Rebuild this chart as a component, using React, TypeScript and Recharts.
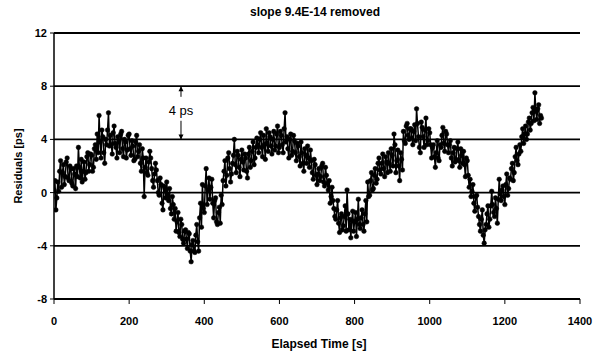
import React from 'react';
import { LineChart, Line, XAxis, YAxis, CartesianGrid, ReferenceLine, ReferenceDot } from 'recharts';

const FONT = 'Arial, "Liberation Sans", Helvetica, sans-serif';

const chartTitle = 'slope 9.4E-14 removed';
const xAxisLabel = 'Elapsed Time [s]';
const yAxisLabel = 'Residuals [ps]';

const xTicks = [0, 200, 400, 600, 800, 1000, 1200, 1400];
const yTicks = [-8, -4, 0, 4, 8, 12];

// samples on the whole 5 s grid
const times = [
  0, 5, 10, 15, 20, 25, 30, 35, 40, 45,
  50, 55, 60, 65, 70, 75, 80, 85, 90, 95,
  100, 105, 110, 115, 120, 125, 130, 135, 140, 145,
  150, 155, 160, 165, 170, 175, 180, 185, 190, 195,
  200, 205, 210, 215, 220, 225, 230, 235, 240, 245,
  250, 255, 260, 265, 270, 275, 280, 285, 290, 295,
  300, 305, 310, 315, 320, 325, 330, 335, 340, 345,
  350, 355, 360, 365, 370, 375, 380, 385, 390, 395,
  400, 405, 410, 415, 420, 425, 430, 435, 440, 445,
  450, 455, 460, 465, 470, 475, 480, 485, 490, 495,
  500, 505, 510, 515, 520, 525, 530, 535, 540, 545,
  550, 555, 560, 565, 570, 575, 580, 585, 590, 595,
  600, 605, 610, 615, 620, 625, 630, 635, 640, 645,
  650, 655, 660, 665, 670, 675, 680, 685, 690, 695,
  700, 705, 710, 715, 720, 725, 730, 735, 740, 745,
  750, 755, 760, 765, 770, 775, 780, 785, 790, 795,
  800, 805, 810, 815, 820, 825, 830, 835, 840, 845,
  850, 855, 860, 865, 870, 875, 880, 885, 890, 895,
  900, 905, 910, 915, 920, 925, 930, 935, 940, 945,
  950, 955, 960, 965, 970, 975, 980, 985, 990, 995,
  1000, 1005, 1010, 1015, 1020, 1025, 1030, 1035, 1040, 1045,
  1050, 1055, 1060, 1065, 1070, 1075, 1080, 1085, 1090, 1095,
  1100, 1105, 1110, 1115, 1120, 1125, 1130, 1135, 1140, 1145,
  1150, 1155, 1160, 1165, 1170, 1175, 1180, 1185, 1190, 1195,
  1200, 1205, 1210, 1215, 1220, 1225, 1230, 1235, 1240, 1245,
  1250, 1255, 1260, 1265, 1270, 1275, 1280, 1285, 1290, 1295,
];

const residuals = [
  0.2, -1.3, 0.8, 1.6, 0.4, 2.1, 1.2, 2.6, 0.9, 1.8,
  0.5, 1.4, 2.0, 3.4, 1.1, 0.8, 2.3, 1.5, 3.0, 2.1,
  2.8, 1.9, 3.6, 4.4, 5.8, 2.6, 4.2, 2.2, 3.6, 6.0,
  4.3, 2.9, 5.0, 3.4, 4.2, 3.0, 4.6, 2.7, 3.8, 3.2,
  4.4, 2.8, 3.5, 2.5, 4.3, 3.1, 2.2, 3.3, -0.3, 2.6,
  1.3, 3.1, 1.8, 0.4, 2.2, 0.9, -0.2, 0.6, -1.3, 0.3,
  0.8, -0.6, -1.2, -0.3, -2.0, -2.9, -1.5, -3.3, -2.4, -3.8,
  -2.8, -4.2, -3.1, -5.2, -3.6, -4.5, -2.4, -4.4, -0.8, 0.6,
  -1.5, 1.8, 0.2, -0.5, 1.0, -1.9, -0.4, -2.4, -1.1, -0.2,
  0.9, 2.4, 1.3, 3.0, 0.8, 2.2, 4.0, 1.5, 2.8, 1.2,
  3.2, 1.7, 2.6, 1.1, 3.4, 2.4, 3.8, 2.6, 4.1, 3.0,
  4.5, 2.7, 3.6, 4.8, 3.1, 4.2, 2.9, 4.6, 3.5, 5.0,
  3.4, 4.3, 3.0, 6.0, 4.2, 2.6, 4.4, 3.1, 3.9, 2.4,
  3.5, 2.0, 3.0, 1.6, 2.8, 3.5, 1.9, 2.4, 1.0, 2.1,
  0.6, 1.8, 1.2, 2.2, 0.5, 1.3, 0.2, -0.8, 0.4, -1.2,
  -2.0, -0.6, -3.0, -1.6, -2.5, -1.0, 0.2, -2.8, -3.4, -1.4,
  -2.2, -3.3, -0.5, -2.7, -1.3, -2.9, -0.6, 0.8, -0.2, 1.5,
  0.3, 1.8, 1.0, 2.6, 1.4, 2.9, 1.2, 2.3, 3.0, 1.6,
  2.8, 4.4, 1.5, 3.2, 0.9, 2.5, 4.6, 3.7, 5.2, 4.0,
  4.8, 3.6, 5.1, 6.3, 4.2, 3.0, 4.9, 3.4, 5.6, 3.9,
  4.5, 2.6, 3.6, 1.9, 3.9, 2.4, 3.4, 4.9, 3.1, 4.4,
  3.0, 3.9, 2.0, 3.4, 2.5, 3.8, 1.9, 2.8, 3.1, 1.2,
  2.4, 0.4, -0.3, 0.6, -1.4, -0.2, -1.8, -2.9, -1.3, -3.8,
  -2.4, -1.0, -2.0, 0.1, -1.5, -0.4, -2.3, 1.0, -0.6, 0.5,
  -0.9, 1.4, 0.3, 1.0, 2.2, 1.5, 3.4, 2.1, 3.6, 4.2,
  3.7, 5.0, 4.4, 5.6, 5.2, 6.4, 7.5, 5.5, 6.6, 5.8,
];

// samples half-way between the ones above
const timesMid = [
  2.5, 7.5, 12.5, 17.5, 22.5, 27.5, 32.5, 37.5, 42.5, 47.5,
  52.5, 57.5, 62.5, 67.5, 72.5, 77.5, 82.5, 87.5, 92.5, 97.5,
  102.5, 107.5, 112.5, 117.5, 122.5, 127.5, 132.5, 137.5, 142.5, 147.5,
  152.5, 157.5, 162.5, 167.5, 172.5, 177.5, 182.5, 187.5, 192.5, 197.5,
  202.5, 207.5, 212.5, 217.5, 222.5, 227.5, 232.5, 237.5, 242.5, 247.5,
  252.5, 257.5, 262.5, 267.5, 272.5, 277.5, 282.5, 287.5, 292.5, 297.5,
  302.5, 307.5, 312.5, 317.5, 322.5, 327.5, 332.5, 337.5, 342.5, 347.5,
  352.5, 357.5, 362.5, 367.5, 372.5, 377.5, 382.5, 387.5, 392.5, 397.5,
  402.5, 407.5, 412.5, 417.5, 422.5, 427.5, 432.5, 437.5, 442.5, 447.5,
  452.5, 457.5, 462.5, 467.5, 472.5, 477.5, 482.5, 487.5, 492.5, 497.5,
  502.5, 507.5, 512.5, 517.5, 522.5, 527.5, 532.5, 537.5, 542.5, 547.5,
  552.5, 557.5, 562.5, 567.5, 572.5, 577.5, 582.5, 587.5, 592.5, 597.5,
  602.5, 607.5, 612.5, 617.5, 622.5, 627.5, 632.5, 637.5, 642.5, 647.5,
  652.5, 657.5, 662.5, 667.5, 672.5, 677.5, 682.5, 687.5, 692.5, 697.5,
  702.5, 707.5, 712.5, 717.5, 722.5, 727.5, 732.5, 737.5, 742.5, 747.5,
  752.5, 757.5, 762.5, 767.5, 772.5, 777.5, 782.5, 787.5, 792.5, 797.5,
  802.5, 807.5, 812.5, 817.5, 822.5, 827.5, 832.5, 837.5, 842.5, 847.5,
  852.5, 857.5, 862.5, 867.5, 872.5, 877.5, 882.5, 887.5, 892.5, 897.5,
  902.5, 907.5, 912.5, 917.5, 922.5, 927.5, 932.5, 937.5, 942.5, 947.5,
  952.5, 957.5, 962.5, 967.5, 972.5, 977.5, 982.5, 987.5, 992.5, 997.5,
  1002.5, 1007.5, 1012.5, 1017.5, 1022.5, 1027.5, 1032.5, 1037.5, 1042.5, 1047.5,
  1052.5, 1057.5, 1062.5, 1067.5, 1072.5, 1077.5, 1082.5, 1087.5, 1092.5, 1097.5,
  1102.5, 1107.5, 1112.5, 1117.5, 1122.5, 1127.5, 1132.5, 1137.5, 1142.5, 1147.5,
  1152.5, 1157.5, 1162.5, 1167.5, 1172.5, 1177.5, 1182.5, 1187.5, 1192.5, 1197.5,
  1202.5, 1207.5, 1212.5, 1217.5, 1222.5, 1227.5, 1232.5, 1237.5, 1242.5, 1247.5,
  1252.5, 1257.5, 1262.5, 1267.5, 1272.5, 1277.5, 1282.5, 1287.5, 1292.5, 1297.5,
];

const residualsMid = [
  0.9, -0.4, 0.1, 2.4, 1.5, 0.6, 2.3, 1.1, 2.0, 0.7,
  1.8, 0.3, 1.2, 1.9, 2.5, 1.6, 1.0, 2.7, 1.6, 2.9,
  1.6, 3.3, 2.5, 3.0, 3.8, 4.7, 3.0, 4.0, 4.7, 3.5,
  3.6, 4.5, 3.7, 2.6, 3.9, 4.4, 3.3, 4.0, 2.6, 4.3,
  3.3, 3.9, 2.4, 3.8, 2.7, 3.6, 1.6, 2.6, 1.9, 1.5,
  2.3, 2.6, 0.9, 1.4, 1.7, 0.0, 1.1, -0.8, 0.5, -0.4,
  -0.2, 0.3, -1.6, -0.9, -1.2, -2.2, -3.0, -2.0, -3.5, -2.9,
  -3.5, -3.0, -4.4, -3.9, -4.4, -3.2, -3.7, -1.9, -2.6, -1.2,
  0.5, -0.9, 1.1, 0.4, -0.8, -0.6, -2.2, -1.5, -2.3, -0.9,
  1.6, 0.5, 2.6, 1.8, 1.4, 2.8, 2.1, 3.1, 1.9, 2.5,
  2.3, 2.9, 1.6, 2.9, 1.9, 3.1, 2.1, 3.4, 3.6, 4.0,
  3.4, 4.3, 2.5, 3.7, 4.5, 3.5, 4.0, 3.2, 4.4, 3.0,
  4.6, 3.6, 4.8, 3.8, 3.3, 4.0, 2.8, 4.3, 3.0, 3.7,
  2.7, 3.8, 2.2, 3.3, 2.2, 2.6, 3.2, 1.5, 2.5, 1.3,
  1.4, 0.9, 2.0, 0.8, 1.9, 0.7, 0.9, -0.3, -0.6, -1.8,
  -1.3, -2.3, -1.9, -2.8, -1.8, -2.9, -1.6, -2.0, -2.1, -2.9,
  -1.5, -2.0, -2.4, -1.9, -2.4, -1.6, -2.2, -0.3, 0.9, 0.2,
  1.3, 0.7, 2.2, 1.7, 2.2, 1.8, 2.7, 1.5, 2.2, 3.3,
  2.0, 3.6, 2.4, 2.0, 3.0, 1.7, 3.9, 5.0, 4.3, 4.8,
  4.1, 4.6, 3.9, 5.2, 3.4, 5.3, 4.2, 4.7, 3.6, 4.8,
  3.6, 3.4, 2.7, 3.0, 2.6, 3.6, 4.3, 3.7, 4.6, 3.6,
  3.6, 2.6, 3.0, 2.3, 3.3, 2.4, 3.3, 2.2, 2.1, 2.6,
  1.3, 1.0, 0.1, -0.8, -0.3, -1.1, -2.4, -2.0, -3.2, -2.8,
  -1.6, -2.6, -1.0, -0.9, -1.8, -1.2, -0.5, -0.1, 0.2, -0.3,
  0.6, -0.2, 1.1, 1.8, 0.9, 2.7, 2.4, 2.9, 3.1, 4.8,
  4.4, 4.0, 5.3, 4.7, 6.0, 5.4, 6.1, 6.3, 5.2, 5.6,
];

// "4 ps" annotation (arrow between the 4 and 8 gridlines)
const annotationTime = 338;
const annotationTop = 8;
const annotationBottom = 4;
const annotationGapTop = 7.2;
const annotationGapBottom = 5.4;
const annotationTextY = 6.2;
const annotationText = '4 ps';

const data = times.flatMap((t, i) => [
  { t, r: residuals[i] },
  { t: timesMid[i], r: residualsMid[i] },
]);

const tickStyle = { fill: '#000', fontSize: 11, fontWeight: 'bold' as const, fontFamily: FONT };

const ArrowUp = (props: any) => {
  const { cx, cy } = props;
  return <polygon points={`${cx},${cy} ${cx - 2.5},${cy + 5} ${cx + 2.5},${cy + 5}`} fill="#000" />;
};
const ArrowDown = (props: any) => {
  const { cx, cy } = props;
  return <polygon points={`${cx},${cy} ${cx - 2.5},${cy - 5} ${cx + 2.5},${cy - 5}`} fill="#000" />;
};
const AnnotText = (props: any) => {
  const { cx, cy } = props;
  return (
    <text x={cx} y={cy} textAnchor="middle" dominantBaseline="central" fontSize={13} fontFamily={FONT} fill="#000">
      {annotationText}
    </text>
  );
};

export default function App() {
  return (
    <div style={{ position: 'absolute', left: 0, top: 0, width: 610, height: 357, background: '#fff' }}>
      <LineChart width={610} height={357} data={data} margin={{ top: 33, right: 30, bottom: 28, left: 14 }}>
        <CartesianGrid vertical={false} stroke="#000" strokeWidth={1.8} horizontalValues={yTicks} />
        <XAxis
          dataKey="t"
          type="number"
          domain={[0, 1400]}
          ticks={xTicks}
          tickSize={5}
          tickMargin={13}
          height={30}
          axisLine={{ stroke: '#000', strokeWidth: 1.5 }}
          tickLine={{ stroke: '#000' }}
          tick={tickStyle}
          allowDataOverflow
        />
        <YAxis
          type="number"
          domain={[-8, 12]}
          ticks={yTicks}
          width={40}
          tickSize={4}
          tickMargin={3}
          axisLine={{ stroke: '#000', strokeWidth: 1.5 }}
          tickLine={{ stroke: '#000' }}
          tick={tickStyle}
          allowDataOverflow
        />
        <Line
          dataKey="r"
          type="linear"
          stroke="#000"
          strokeWidth={1.5}
          dot={{ r: 2.3, fill: '#000', stroke: '#000', strokeWidth: 0.5 }}
          isAnimationActive={false}
        />
        <ReferenceLine
          segment={[{ x: annotationTime, y: annotationTop }, { x: annotationTime, y: annotationGapTop }]}
          stroke="#000"
          strokeWidth={1}
        />
        <ReferenceLine
          segment={[{ x: annotationTime, y: annotationGapBottom }, { x: annotationTime, y: annotationBottom }]}
          stroke="#000"
          strokeWidth={1}
        />
        <ReferenceDot x={annotationTime} y={annotationTop} shape={ArrowUp} />
        <ReferenceDot x={annotationTime} y={annotationBottom} shape={ArrowDown} />
        <ReferenceDot x={annotationTime} y={annotationTextY} shape={AnnotText} />
      </LineChart>
      <div
        style={{
          position: 'absolute', left: 0, width: 630, top: 6, textAlign: 'center',
          fontFamily: FONT, fontSize: 12, fontWeight: 'bold', lineHeight: '13px', color: '#000',
        }}
      >
        {chartTitle}
      </div>
      <div
        style={{
          position: 'absolute', left: 0, width: 638, top: 338, textAlign: 'center',
          fontFamily: FONT, fontSize: 12, fontWeight: 'bold', lineHeight: '13px', color: '#000',
        }}
      >
        {xAxisLabel}
      </div>
      <div
        style={{
          position: 'absolute', left: -42, top: 160, width: 120, height: 12, textAlign: 'center',
          transform: 'rotate(-90deg)', transformOrigin: '60px 6px',
          fontFamily: FONT, fontSize: 11, fontWeight: 'bold', lineHeight: '12px', color: '#000',
        }}
      >
        {yAxisLabel}
      </div>
    </div>
  );
}
